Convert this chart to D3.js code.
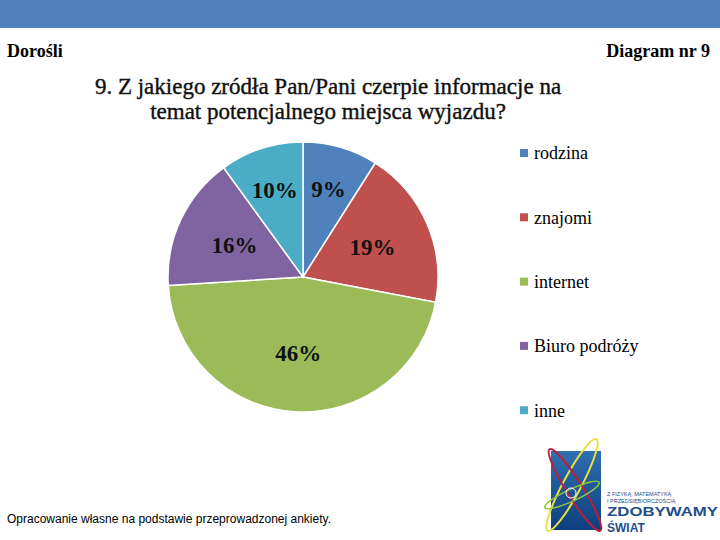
<!DOCTYPE html>
<meta charset="utf-8">
<style>
  body { margin: 0; background: #fff; }
  svg { display: block; }
</style>
<body>
<script src="https://d3js.org/d3.v7.min.js"></script>
<script>
  // data
  var categories = ["rodzina", "znajomi", "internet", "Biuro podróży", "inne"];
  var values = [9, 19, 46, 16, 10];
  var colors = ["#4F81BD", "#C0504D", "#9BBB59", "#8064A2", "#4BACC6"];

  var SERIF = "Liberation Serif, Times New Roman, serif";
  var SANS = "Liberation Sans, Arial, sans-serif";

  var W = 720, H = 540;
  var svg = d3.select("body").append("svg")
    .attr("width", W).attr("height", H);

  // top banner
  svg.append("rect").attr("x", 0).attr("y", 0).attr("width", W).attr("height", 28)
    .attr("fill", "#4F81BD");

  // headers
  svg.append("text").attr("font-family", SERIF).attr("x", 7).attr("y", 57)
    .attr("font-size", 18).attr("font-weight", "bold").text("Dorośli");
  svg.append("text").attr("font-family", SERIF).attr("x", 710).attr("y", 57)
    .attr("text-anchor", "end").attr("font-size", 18).attr("font-weight", "bold")
    .text("Diagram nr 9");

  // title
  var title = ["9. Z jakiego zródła Pan/Pani czerpie informacje na",
               "temat potencjalnego miejsca wyjazdu?"];
  svg.append("g").selectAll("text").data(title).enter().append("text")
    .attr("font-family", SERIF)
    .attr("x", 328).attr("y", function (d, i) { return 94 + i * 25; })
    .attr("text-anchor", "middle").attr("font-size", 23)
    .attr("fill", "#111")
    .attr("stroke", "#111").attr("stroke-width", 0.4)
    .text(function (d) { return d; });

  // pie
  var cx = 303, cy = 277, R = 135;
  var pie = d3.pie().sort(null).value(function (d) { return d; });
  var arcs = pie(values);
  var arc = d3.arc().innerRadius(0).outerRadius(R);
  var g = svg.append("g").attr("transform", "translate(" + cx + "," + cy + ")");

  g.selectAll("path").data(arcs).enter().append("path")
    .attr("d", arc)
    .attr("fill", function (d, i) { return colors[i]; })
    .attr("stroke", "#fff").attr("stroke-width", 1.5);

  // labels, small slices pushed outward
  g.selectAll("text.lbl").data(arcs).enter().append("text")
    .attr("class", "lbl")
    .attr("font-family", SERIF)
    .attr("transform", function (d) {
      var r = d.data < 12 ? 0.68 * R : 0.56 * R;
      var c = d3.arc().innerRadius(r).outerRadius(r).centroid(d);
      return "translate(" + c[0] + "," + c[1] + ")";
    })
    .attr("text-anchor", "middle").attr("dy", "0.35em")
    .attr("font-size", 23).attr("font-weight", "bold").attr("fill", "#111")
    .text(function (d) { return d.data + "%"; });

  // legend
  var leg = svg.append("g").selectAll("g").data(categories).enter().append("g")
    .attr("transform", function (d, i) { return "translate(520," + (153 + i * 64.3) + ")"; });
  leg.append("rect").attr("x", 0).attr("y", -4).attr("width", 8).attr("height", 8)
    .attr("fill", function (d, i) { return colors[i]; });
  leg.append("text").attr("font-family", SERIF).attr("x", 14).attr("dy", "0.35em")
    .attr("font-size", 18).text(function (d) { return d; });

  // footnote
  svg.append("text").attr("x", 7).attr("y", 523)
    .attr("font-family", SANS).attr("font-size", 12)
    .text("Opracowanie własne na podstawie przeprowadzonej ankiety.");

  // logo
  var logo = svg.append("g");
  var grad = svg.append("defs").append("linearGradient").attr("id", "lg")
    .attr("x1", 0).attr("y1", 0).attr("x2", 0).attr("y2", 1);
  grad.append("stop").attr("offset", 0).attr("stop-color", "#2f6fb0");
  grad.append("stop").attr("offset", 1).attr("stop-color", "#0d3f80");
  logo.append("rect").attr("x", 551).attr("y", 451).attr("width", 50).attr("height", 79)
    .attr("fill", "url(#lg)");
  logo.append("ellipse").attr("cx", 572).attr("cy", 485).attr("rx", 52).attr("ry", 9)
    .attr("transform", "rotate(-62 572 485)").attr("fill", "none")
    .attr("stroke", "#e8e03a").attr("stroke-width", 2);
  logo.append("ellipse").attr("cx", 575).attr("cy", 490).attr("rx", 48).attr("ry", 8)
    .attr("transform", "rotate(58 575 490)").attr("fill", "none")
    .attr("stroke", "#b8203a").attr("stroke-width", 2);
  logo.append("ellipse").attr("cx", 572).attr("cy", 495).attr("rx", 30).attr("ry", 6)
    .attr("transform", "rotate(-25 572 495)").attr("fill", "none")
    .attr("stroke", "#8cc63f").attr("stroke-width", 1.5);
  logo.append("circle").attr("cx", 571).attr("cy", 493).attr("r", 5)
    .attr("fill", "none").attr("stroke", "#fff").attr("stroke-width", 1);
  logo.append("text").attr("x", 607).attr("y", 496).attr("font-family", SANS)
    .attr("font-size", 5.5).attr("fill", "#1f4e8c").text("Z FIZYKĄ, MATEMATYKĄ");
  logo.append("text").attr("x", 607).attr("y", 503).attr("font-family", SANS)
    .attr("font-size", 5.5).attr("fill", "#1f4e8c").text("I PRZEDSIĘBIORCZOŚCIĄ");
  logo.append("text").attr("x", 607).attr("y", 515.5).attr("font-family", SANS)
    .attr("font-size", 12).attr("font-weight", "bold").attr("fill", "#1f4e8c")
    .attr("textLength", 111).attr("lengthAdjust", "spacingAndGlyphs").text("ZDOBYWAMY");
  logo.append("text").attr("x", 607).attr("y", 532).attr("font-family", SANS)
    .attr("font-size", 12).attr("font-weight", "bold").attr("fill", "#1f4e8c").text("ŚWIAT");
</script>
</body>
